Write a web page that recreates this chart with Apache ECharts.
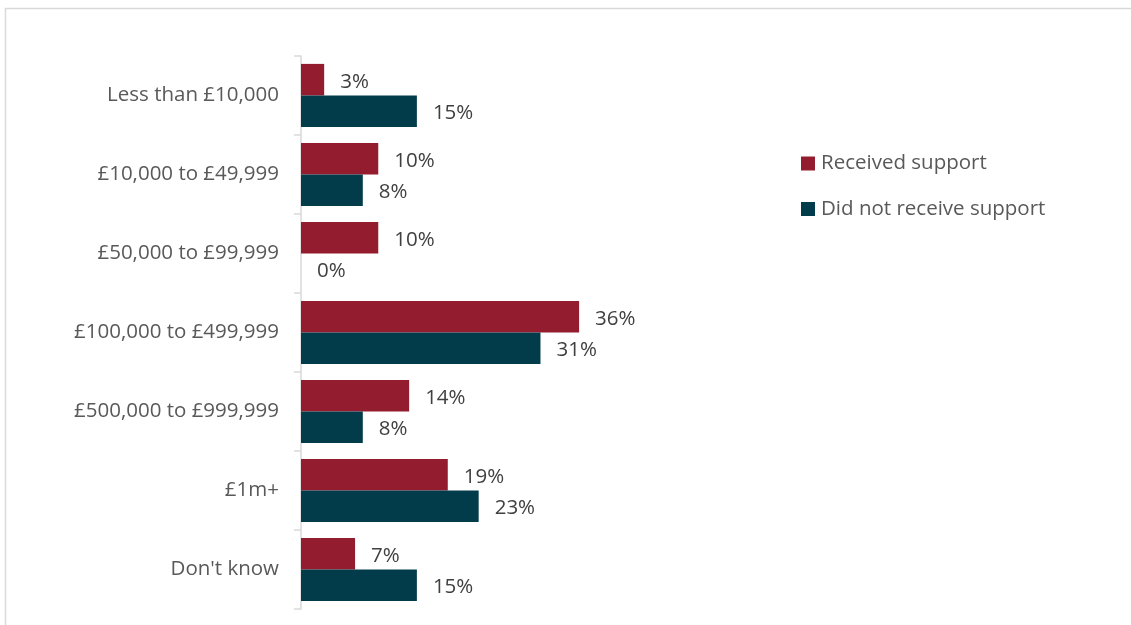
<!DOCTYPE html>
<html>
<head>
<meta charset="utf-8">
<script src="https://cdn.jsdelivr.net/npm/echarts@6/dist/echarts.min.js"></script>
<style>
  html, body { margin: 0; padding: 0; background: #fff; }
  #chart { width: 1131px; height: 625px; }
</style>
</head>
<body>
<div id="chart"></div>
<script>
// Turnover bands and share of businesses in each band
const categories = [
  'Less than £10,000',
  '£10,000 to £49,999',
  '£50,000 to £99,999',
  '£100,000 to £499,999',
  '£500,000 to £999,999',
  '£1m+',
  "Don't know"
];
const receivedSupport = [3, 10, 10, 36, 14, 19, 7];
const didNotReceiveSupport = [15, 8, 0, 31, 8, 23, 15];
const seriesNames = ['Received support', 'Did not receive support'];

const FONT = '"Open Sans", "Noto Sans", sans-serif';
const FONT_SIZE = 20.5;

const chart = echarts.init(document.getElementById('chart'));

const valueLabel = {
  show: true,
  position: 'right',
  distance: 16,
  offset: [0, 2],
  formatter: p => p.value + '%',
  fontFamily: FONT,
  fontSize: FONT_SIZE,
  color: '#404040'
};

chart.setOption({
  animation: false,
  graphic: [{
    type: 'rect',
    shape: { x: 5.5, y: 8.5, width: 1200, height: 700 },
    style: { fill: 'none', stroke: '#d9d9d9', lineWidth: 1.5 },
    silent: true
  }],
  legend: {
    orient: 'vertical',
    left: 796,
    top: 148,
    itemWidth: 14,
    itemHeight: 14,
    itemGap: 24.5,
    icon: 'rect',
    data: seriesNames,
    textStyle: { fontFamily: FONT, fontSize: FONT_SIZE, color: '#595959', padding: [0, 0, 0, 1] }
  },
  grid: {
    left: 301,
    top: 56,
    bottom: 16,
    width: 309,
    containLabel: false
  },
  xAxis: {
    type: 'value',
    min: 0,
    max: 40,
    show: false
  },
  yAxis: {
    type: 'category',
    data: categories,
    inverse: true,
    axisLine: { show: true, lineStyle: { color: '#d9d9d9', width: 1.5 } },
    axisTick: { show: true, length: 7, lineStyle: { color: '#d9d9d9', width: 1.5 } },
    axisLabel: {
      fontFamily: FONT,
      fontSize: FONT_SIZE,
      color: '#595959',
      margin: 22
    }
  },
  series: [
    {
      name: seriesNames[0],
      type: 'bar',
      data: receivedSupport,
      barCategoryGap: '20%',
      barGap: '0%',
      itemStyle: { color: '#941c2f' },
      label: valueLabel
    },
    {
      name: seriesNames[1],
      type: 'bar',
      data: didNotReceiveSupport,
      barCategoryGap: '20%',
      barGap: '0%',
      itemStyle: { color: '#023b4a' },
      label: valueLabel
    }
  ]
});
</script>
</body>
</html>
